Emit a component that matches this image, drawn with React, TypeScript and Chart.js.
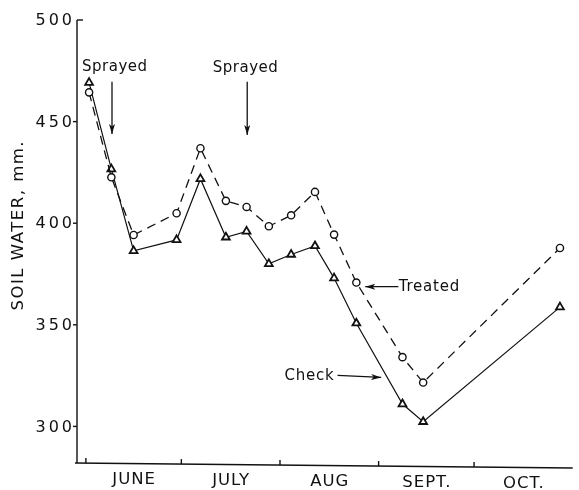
import React, { useEffect, useRef } from "react";
import { Chart, registerables } from "chart.js";

Chart.register(...registerables);

// Days counted from June 1
const days = [1, 8, 15, 28.5, 36, 44, 50.5, 57.5, 64.5, 72, 78, 85, 99.5, 106, 149];
const treated = [464.4, 422.6, 394.2, 404.9, 436.9, 411, 408, 398.5, 403.9, 415.4, 394.4, 370.8, 334.1, 321.6, 387.8];
const check = [469.2, 426.6, 386.4, 391.8, 421.8, 393.1, 396, 380, 384.6, 388.8, 373, 350.8, 311, 302.3, 358.7];

const yTicks = [300, 350, 400, 450, 500];
const monthStarts = [0, 30, 61, 92, 122, 153];
const monthLabels = ["JUNE", "JULY", "AUG", "SEPT.", "OCT."];

const FONT = "'DejaVu Sans', sans-serif";

const overlayPlugin = {
  id: "overlay",
  beforeDatasetsDraw(chart: any) {
    const { ctx, chartArea, scales } = chart;
    const xs = scales.x;
    const ys = scales.y;
    const left = chartArea.left;
    const top = chartArea.top;
    const bottom = chartArea.bottom;
    const right = chartArea.right;
    const slope = 5 / (right - left + 2);
    const by = (x: number) => bottom + (x - (left - 2)) * slope;
    ctx.save();
    ctx.strokeStyle = "#111";
    ctx.fillStyle = "#111";
    ctx.lineWidth = 1.4;
    // left axis
    ctx.beginPath();
    ctx.moveTo(left, top);
    ctx.lineTo(left, bottom);
    ctx.stroke();
    // stub at top
    ctx.beginPath();
    ctx.moveTo(left, top);
    ctx.lineTo(left + 6, top);
    ctx.stroke();
    // bottom axis
    ctx.beginPath();
    ctx.moveTo(left - 2, by(left - 2));
    ctx.lineTo(right, by(right));
    ctx.stroke();
    // y ticks & labels
    ctx.font = `16px ${FONT}`;
    (ctx as any).letterSpacing = "3px";
    ctx.textAlign = "right";
    ctx.textBaseline = "middle";
    yTicks.forEach((v) => {
      const y = ys.getPixelForValue(v);
      if (v !== 500) {
        ctx.beginPath();
        ctx.moveTo(left - 4, y);
        ctx.lineTo(left, y);
        ctx.stroke();
      }
      ctx.fillText(String(v), left - 2, y + 1);
    });
    // x ticks
    monthStarts.slice(0, 5).forEach((d) => {
      const x = xs.getPixelForValue(d);
      ctx.beginPath();
      ctx.moveTo(x, by(x));
      ctx.lineTo(x, by(x) - 5);
      ctx.stroke();
    });
    // month labels
    ctx.font = `16.5px ${FONT}`;
    (ctx as any).letterSpacing = "1px";
    ctx.textAlign = "center";
    monthLabels.forEach((m, i) => {
      const x = (xs.getPixelForValue(monthStarts[i]) + xs.getPixelForValue(monthStarts[i + 1])) / 2;
      ctx.fillText(m, x + 0.5, by(x) + 16);
    });
    // y title
    (ctx as any).letterSpacing = "1.5px";
    ctx.font = `16.5px ${FONT}`;
    ctx.save();
    ctx.translate(19, 226);
    ctx.rotate(-Math.PI / 2);
    ctx.textAlign = "center";
    ctx.fillText("SOIL WATER, mm.", 0.75, 0);
    ctx.restore();
    ctx.restore();
  },
  afterDatasetsDraw(chart: any) {
    const { ctx, scales } = chart;
    const xs = scales.x;
    const ys = scales.y;
    const px = (d: number) => xs.getPixelForValue(d);
    const py = (v: number) => ys.getPixelForValue(v);
    ctx.save();
    ctx.strokeStyle = "#111";
    ctx.fillStyle = "#111";
    ctx.lineWidth = 1.3;
    const arrow = (x1: number, y1: number, x2: number, y2: number) => {
      ctx.beginPath();
      ctx.moveTo(x1, y1);
      ctx.lineTo(x2, y2);
      ctx.stroke();
      const a = Math.atan2(y2 - y1, x2 - x1);
      const len = 10;
      const hw = 3;
      ctx.beginPath();
      ctx.moveTo(x2, y2);
      ctx.lineTo(x2 - len * Math.cos(a) + hw * Math.sin(a), y2 - len * Math.sin(a) - hw * Math.cos(a));
      ctx.lineTo(x2 - len * Math.cos(a) * 0.75, y2 - len * Math.sin(a) * 0.75);
      ctx.lineTo(x2 - len * Math.cos(a) - hw * Math.sin(a), y2 - len * Math.sin(a) + hw * Math.cos(a));
      ctx.closePath();
      ctx.fill();
    };
    ctx.font = `15px ${FONT}`;
    (ctx as any).letterSpacing = "0.5px";
    ctx.textBaseline = "middle";
    ctx.textAlign = "center";
    // Sprayed labels and arrows
    ctx.fillText("Sprayed", px(9.0) + 0.25, py(476.7));
    arrow(px(8.2), py(469.6), px(8.2), py(443.9));
    ctx.fillText("Sprayed", px(50.1) + 0.25, py(476.4));
    arrow(px(50.7), py(469.6), px(50.7), py(443.4));
    // Treated
    (ctx as any).letterSpacing = "0.8px";
    ctx.textAlign = "left";
    ctx.fillText("Treated", px(98.3), py(368.6));
    arrow(px(98.2), py(368.75), px(87.8), py(368.75));
    // Check
    ctx.textAlign = "right";
    ctx.fillText("Check", px(77.9) + 0.8, py(325));
    arrow(px(79.1), py(325.1), px(92.8), py(324.1));
    ctx.restore();
  },
};

export default function App() {
  const ref = useRef<HTMLCanvasElement | null>(null);
  useEffect(() => {
    if (!ref.current) return;
    const chart = new Chart(ref.current, {
      type: "line",
      data: {
        datasets: [
          {
            label: "Treated",
            data: days.map((d, i) => ({ x: d, y: treated[i] })),
            borderColor: "#111",
            borderWidth: 1.3,
            borderDash: [9, 6],
            pointStyle: "circle",
            pointRadius: 3.6,
            pointBorderWidth: 1.4,
            pointBackgroundColor: "#fff",
            pointBorderColor: "#111",
            tension: 0,
            fill: false,
          },
          {
            label: "Check",
            data: days.map((d, i) => ({ x: d, y: check[i] })),
            borderColor: "#111",
            borderWidth: 1.2,
            pointStyle: "triangle",
            pointRadius: 4.5,
            pointBorderWidth: 1.8,
            pointBackgroundColor: "#fff",
            pointBorderColor: "#111",
            tension: 0,
            fill: false,
          },
        ],
      },
      options: {
        animation: false,
        responsive: false,
        devicePixelRatio: 1,
        layout: { padding: { left: 77, top: 20, right: 0, bottom: 27 } },
        plugins: { legend: { display: false }, tooltip: { enabled: false } },
        scales: {
          x: { type: "linear", min: -2.8, max: 153, display: false },
          y: { type: "linear", min: 282, max: 500, display: false },
        },
      },
      plugins: [overlayPlugin],
    });
    return () => chart.destroy();
  }, []);
  return (
    <div style={{ position: "fixed", left: 0, top: 0, width: 579, height: 490, background: "#fff" }}>
      <canvas ref={ref} width={579} height={490} />
    </div>
  );
}
